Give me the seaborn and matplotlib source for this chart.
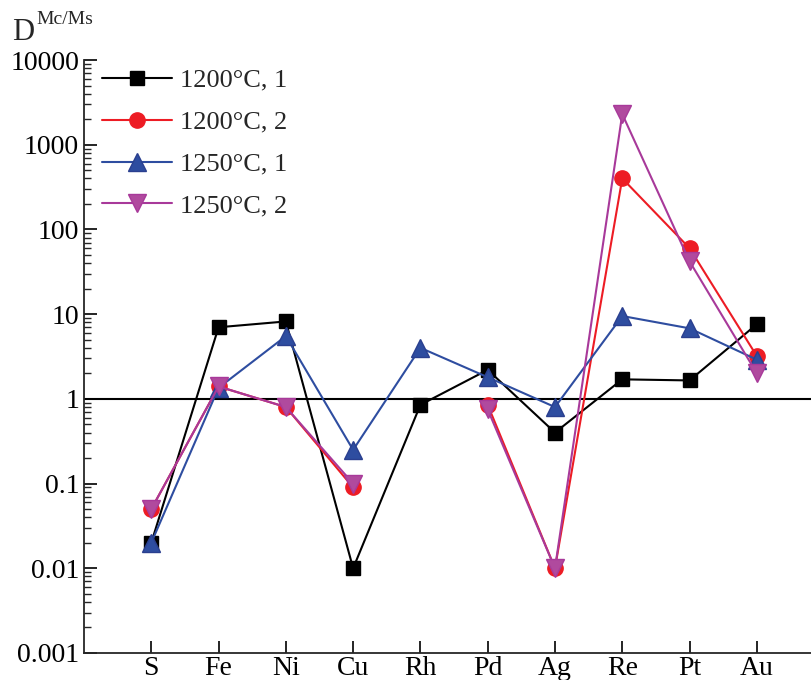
import numpy as np
import pandas as pd
import matplotlib
matplotlib.use("Agg")
import matplotlib.pyplot as plt
import matplotlib.ticker as mticker
from matplotlib.lines import Line2D
import seaborn as sns

# data
elements = ['S', 'Fe', 'Ni', 'Cu', 'Rh', 'Pd', 'Ag', 'Re', 'Pt', 'Au']
d_1200_1 = [0.02, 7.0, 8.2, 0.01, 0.85, 2.2, 0.4, 1.7, 1.65, 7.6]
d_1200_2 = [0.05, 1.4, 0.8, 0.09, np.nan, 0.85, 0.01, 400, 60, 3.2]
d_1250_1 = [0.02, 1.35, 5.5, 0.25, 4.0, 1.8, 0.8, 9.5, 6.8, 2.9]
d_1250_2 = [0.05, 1.4, 0.8, 0.1, np.nan, 0.75, 0.01, 2300, 42, 2.0]
labels = ['1200°C, 1', '1200°C, 2', '1250°C, 1', '1250°C, 2']

series = [
    (labels[0], d_1200_1, 'black', 's', 'black', 'black', 10),
    (labels[1], d_1200_2, '#ED1C24', 'o', '#ED1C24', '#ED1C24', 11),
    (labels[2], d_1250_1, '#2E4DA0', '^', '#2E4DA0', '#2A3F8F', 13),
    (labels[3], d_1250_2, '#A8399A', 'v', '#B04A9E', '#A8399A', 13),
]

sns.set_style("ticks")
plt.rcParams['font.family'] = ['Liberation Serif', 'DejaVu Serif']

fig = plt.figure(figsize=(8.12, 6.8), dpi=100)
ax = fig.add_axes([84 / 812, 1 - 653 / 680, 1 - 84 / 812, (653 - 60) / 680])

handles = []
for lab, vals, col, mk, fc, ec, ms in series:
    df = pd.DataFrame({'pos': np.arange(1, len(elements) + 1), 'val': vals})
    # break line at missing values
    df['seg'] = df['val'].isna().cumsum()
    df = df.dropna()
    sns.lineplot(data=df, x='pos', y='val', units='seg', estimator=None,
                 sort=False, color=col, lw=1.5, marker=mk, markersize=ms,
                 markerfacecolor=fc, markeredgecolor=ec, markeredgewidth=1,
                 ax=ax, legend=False)
    handles.append(Line2D([], [], color=col, lw=1.5, marker=mk, markersize=ms,
                          markerfacecolor=fc, markeredgecolor=ec))

ax.axhline(1, color='black', lw=1.5, zorder=0)

ax.set_yscale('log')
ax.set_ylim(0.001, 10000)
ax.set_xlim(0, 10.82)
ax.set_xticks(np.arange(1, len(elements) + 1))
ax.set_xticklabels(elements)
ax.yaxis.set_major_locator(mticker.LogLocator(base=10, numticks=20))
ax.yaxis.set_minor_locator(mticker.LogLocator(base=10, subs=np.arange(2, 10), numticks=20))
ax.yaxis.set_major_formatter(mticker.FuncFormatter(lambda v, p: f'{v:g}'))
ax.yaxis.set_minor_formatter(mticker.NullFormatter())
ax.set_xlabel('')
ax.set_ylabel('')

ax.tick_params(axis='both', which='major', direction='in', length=9, width=1.2,
               labelsize=20, colors='black')
ax.tick_params(axis='y', which='minor', direction='in', length=5, width=1)
ax.tick_params(axis='x', pad=2)
for s in ['top', 'right']:
    ax.spines[s].set_visible(False)
for s in ['left', 'bottom']:
    ax.spines[s].set_linewidth(1.3)

ax.legend(handles, labels, loc='upper left', frameon=False, fontsize=19,
          handlelength=2.65, handletextpad=0.3, labelspacing=0.7,
          bbox_to_anchor=(0.0, 1.017), borderaxespad=0.3)

fig.text(12 / 812, 1 - 40 / 680, 'D', fontsize=22, ha='left', va='baseline')
fig.text(36 / 812, 1 - 24 / 680, 'Mc/Ms', fontsize=14, ha='left', va='baseline')

fig.savefig('out.png', dpi=100)
